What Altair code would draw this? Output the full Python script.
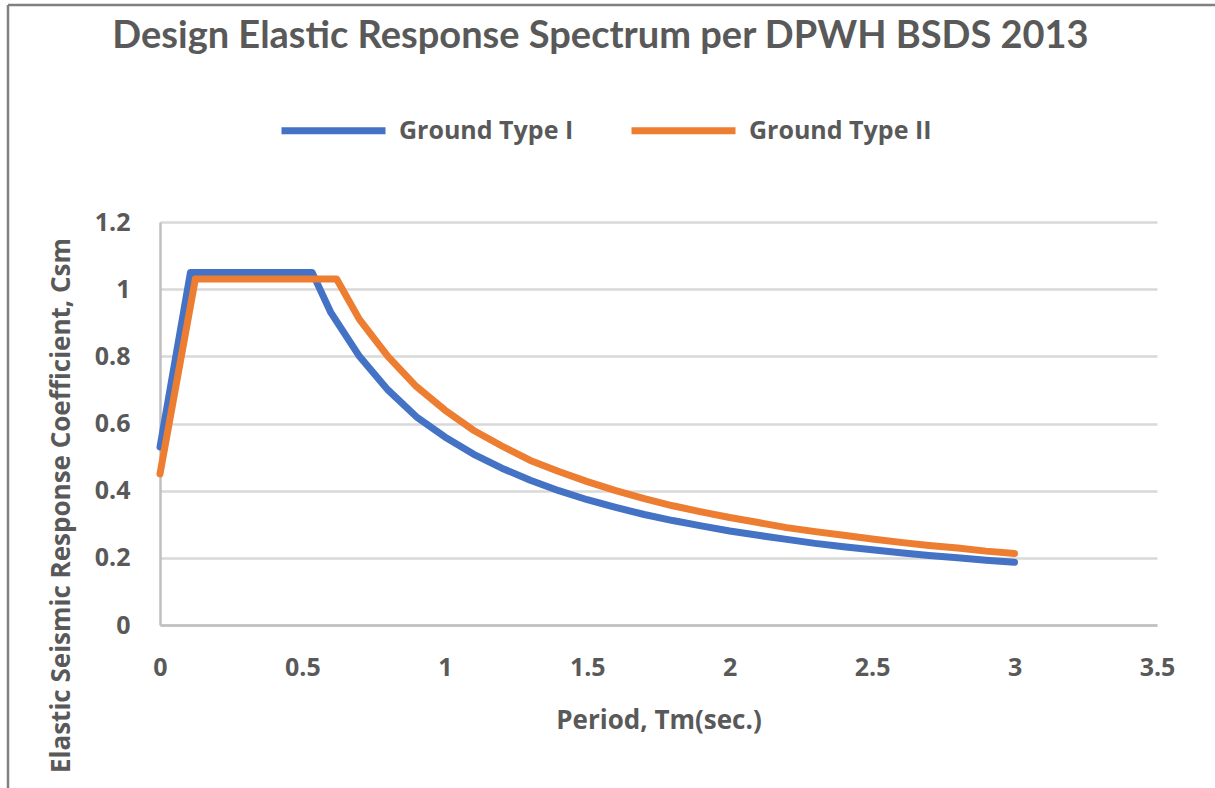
import altair as alt
import pandas as pd

t_type1 = [0.0, 0.107, 0.534, 0.6, 0.7, 0.8, 0.9, 1.0, 1.1, 1.2, 1.3, 1.4, 1.5, 1.6, 1.7, 1.8,
           1.9, 2.0, 2.1, 2.2, 2.3, 2.4, 2.5, 2.6, 2.7, 2.8, 2.9, 3.0]
csm_type1 = [0.53, 1.05, 1.05, 0.93, 0.80, 0.70, 0.62, 0.56, 0.509, 0.467, 0.431, 0.40, 0.373,
             0.35, 0.329, 0.311, 0.295, 0.28, 0.267, 0.255, 0.243, 0.233, 0.224, 0.215, 0.207,
             0.20, 0.193, 0.187]

t_type2 = [0.0, 0.124, 0.62, 0.7, 0.8, 0.9, 1.0, 1.1, 1.2, 1.3, 1.4, 1.5, 1.6, 1.7, 1.8, 1.9,
           2.0, 2.1, 2.2, 2.3, 2.4, 2.5, 2.6, 2.7, 2.8, 2.9, 3.0]
csm_type2 = [0.45, 1.03, 1.03, 0.91, 0.80, 0.71, 0.64, 0.58, 0.533, 0.49, 0.457, 0.427, 0.40,
             0.376, 0.355, 0.337, 0.32, 0.305, 0.29, 0.278, 0.267, 0.256, 0.246, 0.237, 0.229,
             0.22, 0.213]

x_ticks = [0, 0.5, 1, 1.5, 2, 2.5, 3, 3.5]
y_ticks = [0, 0.2, 0.4, 0.6, 0.8, 1.0, 1.2]

series = ["Ground Type I", "Ground Type II"]
colors = ["#4472C4", "#ED7D31"]

rows = []
for i, (t, c) in enumerate(zip(t_type1, csm_type1)):
    rows.append({"T": t, "Csm": c, "Series": series[0], "order": i})
for i, (t, c) in enumerate(zip(t_type2, csm_type2)):
    rows.append({"T": t, "Csm": c, "Series": series[1], "order": i})
df = pd.DataFrame(rows)

TFONT = "Lato"
FONT = "Open Sans"
GREY = "#595959"

lines = alt.Chart(df).mark_line(strokeWidth=7, strokeJoin="round", strokeCap="round").encode(
    x=alt.X("T:Q", scale=alt.Scale(domain=[0, 3.5], nice=False),
            axis=alt.Axis(title="Period, Tm(sec.)", values=x_ticks, format="~g",
                          grid=False, ticks=False, labelPadding=30, titlePadding=27,
                          labelFlush=False,
                          domainColor="#BFBFBF", domainWidth=2.5)),
    y=alt.Y("Csm:Q", scale=alt.Scale(domain=[0, 1.2], nice=False),
            axis=alt.Axis(title="Elastic Seismic Response Coefficient, Csm",
                          values=y_ticks, format="~g", ticks=False, labelFlush=False,
                          labelPadding=30, gridColor="#D9D9D9", gridWidth=2.5,
                          domainColor="#BFBFBF", domainWidth=2.5,
                          titleX=-86, titleY=283, titleAnchor="middle")),
    color=alt.Color("Series:N", scale=alt.Scale(domain=series, range=colors),
                    legend=alt.Legend(title=None, orient="none", direction="horizontal",
                                      legendX=118, legendY=-147, symbolType="stroke",
                                      symbolSize=10816, symbolStrokeWidth=7,
                                      labelFontSize=25, labelFont=FONT, labelFontWeight="bold",
                                      labelLimit=400,
                                      labelColor=GREY, labelOffset=10, columnPadding=43)),
    order="order:Q",
)

# chart-area frame (top and left edges, as visible in the reference)
frame_top = alt.Chart(pd.DataFrame({"k": [0]})).mark_rule(color="#808080", strokeWidth=2.5).encode(
    x=alt.value(-152), x2=alt.value(1060), y=alt.value(-217))
frame_left = alt.Chart(pd.DataFrame({"k": [0]})).mark_rule(color="#808080", strokeWidth=2.5).encode(
    x=alt.value(-152), y=alt.value(-217), y2=alt.value(570))

chart = alt.layer(lines, frame_top, frame_left).properties(
    width=997, height=403,
    title=alt.TitleParams("Design Elastic Response Spectrum per DPWH BSDS 2013",
                          fontSize=38, font=TFONT, fontWeight="bold", color=GREY,
                          anchor="middle", dx=-58, offset=-52),
    autosize=alt.AutoSizeParams(type="none"),
    padding={"left": 160, "top": 222, "right": 58, "bottom": 163},
).configure_view(stroke=None).configure_axis(
    labelFont=FONT, labelFontSize=25, labelFontWeight="bold", labelColor=GREY,
    titleFont=FONT, titleFontSize=26, titleFontWeight="bold", titleColor=GREY,
).configure_legend(padding=0)

chart.save("out.html", embed_options={"renderer": "svg", "actions": False})
